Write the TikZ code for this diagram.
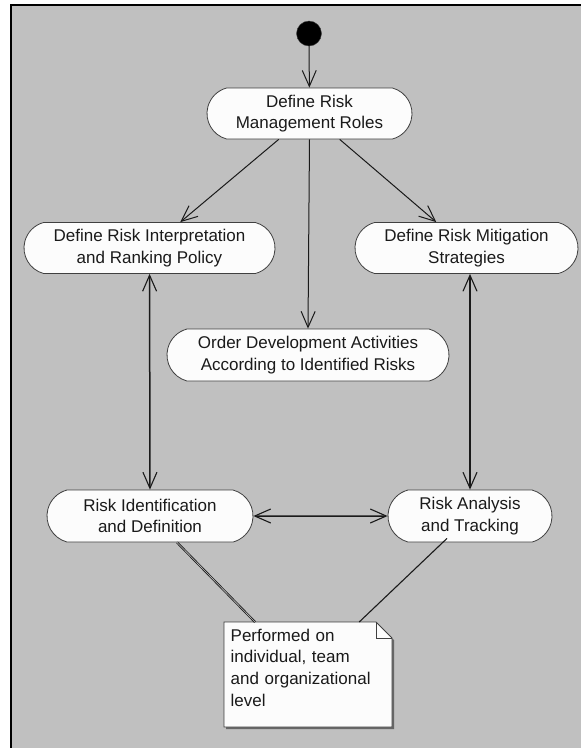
\documentclass[tikz,border=0pt]{standalone}
\usepackage{fontspec}
\setmainfont{Liberation Sans}
\usetikzlibrary{shapes.misc,arrows.meta,calc}
\definecolor{bg}{HTML}{C0C0C0}
\definecolor{nodefill}{HTML}{FCFCFC}
\definecolor{edgecol}{HTML}{404040}
\definecolor{ink}{HTML}{1A1A1A}
\begin{document}
\begin{tikzpicture}[x=1pt,y=-1pt,
  act/.style={rounded rectangle, rounded rectangle arc length=150, draw=edgecol, line width=0.8pt,
    fill=nodefill, minimum height=51pt, inner sep=0pt, align=center,
    font=\fontsize{17}{21.7}\selectfont, text=ink},
  flow/.style={draw=ink, line width=1pt, -{Straight Barb[length=16pt,width=14pt,line width=1pt]}},
  both/.style={draw=ink, line width=1.5pt,
    {Straight Barb[length=16pt,width=14pt,line width=1.1pt]}-{Straight Barb[length=16pt,width=14pt,line width=1.1pt]}},
  link/.style={draw=ink, line width=1.1pt},
  notetext/.style={anchor=north west, inner sep=6.5pt, text width=155pt, align=left,
    font=\fontsize{17}{21.7}\selectfont, text=ink}
]
\useasboundingbox (0,0) rectangle (581,748);
\fill[white] (0,0) rectangle (581,748);
\fill[bg] (11,5) rectangle (581,748);
\draw[black, line width=2.5pt] (11,748) -- (11,5) -- (581,5);

\node[circle, fill=black, draw=edgecol, minimum size=25pt, inner sep=0pt] (start) at (309,33.5) {};

\node[act, minimum width=205pt] (roles) at (309.5,113.5) {Define Risk\\Management Roles};
\node[act, minimum width=251pt] (interp) at (149.5,248) {Define Risk Interpretation\\and Ranking Policy};
\node[act, minimum width=223pt] (mitig) at (466.5,248) {Define Risk Mitigation\\Strategies};
\node[act, minimum width=282pt, minimum height=52pt] (order) at (308,355) {Order Development Activities\\According to Identified Risks};
\node[act, minimum width=206pt, minimum height=52pt] (ident) at (150,516) {Risk Identification\\and Definition};
\node[act, minimum width=164pt, minimum height=52pt] (ana) at (470,516) {Risk Analysis\\and Tracking};

\coordinate (nw) at (224,622);
\fill[black!60] ($(nw)+(2,2)$) -- ++(152,0) -- ++(16,16) -- ++(0,89) -- ++(-168,0) -- cycle;
\draw[draw=edgecol, line width=0.9pt, fill=nodefill] (nw) -- ++(152,0) -- ++(16,16) -- ++(0,89) -- ++(-168,0) -- cycle;
\draw[draw=edgecol, line width=0.8pt] ($(nw)+(152,0)$) -- ++(0,16) -- ++(16,0);
\node[notetext] (note) at (nw) {Performed on\\individual, team\\and organizational\\level};

\draw[flow] (start) -- (roles);
\draw[flow] (roles) -- (interp);
\draw[flow] (roles) -- (mitig);
\draw[flow] (roles.south) -- (order.north);
\draw[both] (interp) -- (ident);
\draw[both] (ana.north |- mitig.south) -- (ana.north);
\draw[both] (ident) -- (ana);
\draw[link, double=bg, double distance=0.6pt, line width=0.8pt] ($(ident.south)+(27,0)$) -- ($(note.north west)+(31,0)$);
\draw[link] ($(ana.south)+(-23,-4)$) -- ($(note.north)+(51,0)$);
\end{tikzpicture}
\end{document}
